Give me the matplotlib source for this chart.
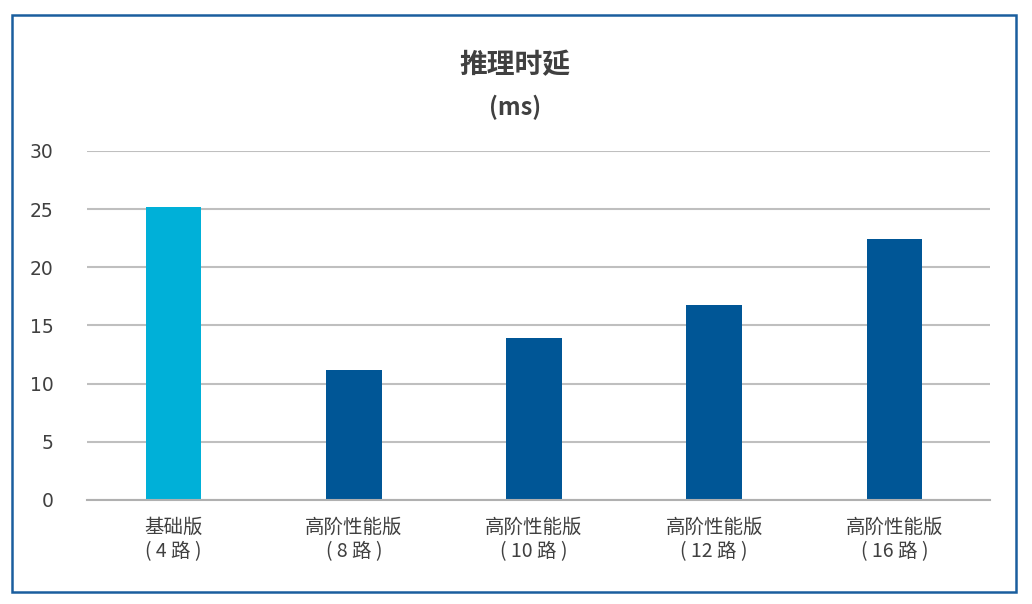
import matplotlib

matplotlib.use("Agg")
import matplotlib.pyplot as plt  # noqa: E402
from matplotlib.patches import Rectangle  # noqa: E402

plt.rcParams["font.family"] = ["Noto Sans CJK SC", "DejaVu Sans"]

categories = ["基础版\n( 4 路 )", "高阶性能版\n( 8 路 )", "高阶性能版\n( 10 路 )", "高阶性能版\n( 12 路 )", "高阶性能版\n( 16 路 )"]
latency_ms = [25.15, 11.15, 13.95, 16.75, 22.4]
bar_colors = ["#00B0D8", "#005696", "#005696", "#005696", "#005696"]
y_ticks = [0, 5, 10, 15, 20, 25, 30]

text_color = "#404040"
grid_color = "#BFBFBF"

fig = plt.figure(figsize=(10.32, 6.04), dpi=100)
ax = fig.add_axes((0.0843, 0.1722, 0.8750, 0.5778))

positions = range(len(categories))
ax.bar(positions, latency_ms, width=0.31, color=bar_colors, zorder=3)

ax.set_xlim(-0.48, 4.53)
ax.set_ylim(0, 30)
ax.set_yticks(y_ticks)
ax.set_xticks(list(positions))
ax.set_xticklabels(categories, fontsize=14, color=text_color, linespacing=1.2)
ax.tick_params(axis="y", length=0, pad=24, labelsize=13.5, labelcolor=text_color)
ax.tick_params(axis="x", length=0, pad=12)
for label in ax.get_yticklabels():
    label.set_family(["DejaVu Sans"])
    label.set_horizontalalignment("right")

ax.grid(axis="y", color=grid_color, linewidth=1.5, zorder=0)
for side in ("top", "right", "left"):
    ax.spines[side].set_visible(False)
ax.spines["bottom"].set_color("#B0B0B0")
ax.spines["bottom"].set_linewidth(1.5)
ax.spines["bottom"].set_zorder(4)

fig.text(0.499, 0.892, "推理时延", ha="center", va="center", fontsize=20, fontweight="bold", color=text_color)
fig.text(0.499, 0.822, "(ms)", ha="center", va="center", fontsize=17, fontweight="bold", color=text_color)

fig.patches.append(
    Rectangle((11.5 / 1032, 1 - 592 / 604), (1016 - 11.5) / 1032, (592 - 14.5) / 604,
              transform=fig.transFigure, fill=False, edgecolor="#1A5E9E", linewidth=1.8)
)

fig.savefig("out.png", dpi=100)
plt.close(fig)
